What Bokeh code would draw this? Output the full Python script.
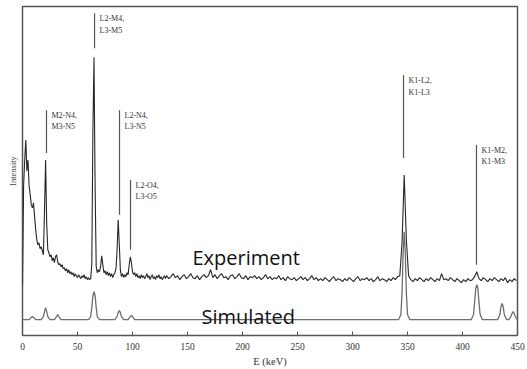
from bokeh.plotting import figure
from bokeh.models import Range1d, FixedTicker
from bokeh.core.properties import value
from bokeh.embed import file_html
from bokeh.resources import INLINE

# ---------------- data ----------------
exp_energy = list(range(0, 131)) + list(range(131, 450, 2))
exp_intensity = [
    51, 150, 176, 196, 165, 176, 150, 141, 131, 128,
    133, 119, 106, 96, 91, 93, 87, 89, 85, 81,
    125, 176, 112, 86, 83, 79, 81, 75, 78, 73,
    79, 81, 74, 71, 72, 69, 71, 67, 68, 65,
    67, 63, 66, 62, 64, 61, 63, 59, 62, 60,
    58, 61, 59, 57, 60, 58, 61, 57, 59, 56,
    58, 56, 57, 72, 205, 279, 150, 69, 63, 66,
    64, 69, 80, 71, 63, 65, 61, 64, 60, 63,
    59, 62, 58, 61, 63, 67, 86, 116, 91, 65,
    59, 62, 58, 61, 59, 63, 61, 71, 79, 73,
    64, 61, 63, 59, 62, 58, 60, 57, 61, 58,
    60, 57, 59, 62, 58, 60, 56, 59, 61, 57,
    59, 56, 60, 58, 61, 57, 59, 56, 58, 60,
    57,
    # 131 .. 449 keV, 2 keV step
    60, 57, 59, 62, 58, 60, 56, 59, 61, 57,
    59, 62, 58, 57, 60, 56, 59, 61, 58, 60,
    66, 58, 61, 57, 60, 62, 58, 59, 56, 60,
    61, 57, 59, 62, 58, 57, 60, 56, 59, 58,
    60, 57, 59, 56, 58, 61, 57, 59, 56, 58,
    57, 60, 56, 58, 55, 59, 57, 56, 58, 55,
    57, 59, 56, 58, 55, 57, 60, 56, 58, 55,
    57, 55, 58, 56, 54, 57, 59, 55, 57, 56,
    54, 57, 55, 58, 56, 54, 57, 59, 55, 57,
    56, 58, 55, 57, 54, 56, 59, 55, 57, 56,
    54, 57, 55, 58, 56, 59, 60, 92, 161, 95,
    60, 56, 54, 57, 55, 58, 56, 54, 57, 55,
    58, 56, 54, 57, 55, 62, 56, 57, 55, 58,
    56, 54, 57, 55, 53, 56, 54, 57, 55, 56,
    59, 64, 57, 55, 58, 56, 54, 57, 55, 58,
    56, 54, 57, 55, 58, 53, 56, 54, 57, 55,
]

sim_energy = [
    0, 6, 8, 9, 10, 12,
    17, 19, 20, 21, 22, 23, 25,
    29, 31, 32, 33, 35,
    60, 62, 63, 64, 65, 66, 67, 68, 70,
    84, 86, 87, 88, 89, 90, 92,
    96, 98, 99, 100, 102,
    342, 344, 345, 346, 347, 348, 349, 350, 352,
    408, 410, 411, 412, 413, 414, 415, 416, 418,
    432, 434, 435, 436, 437, 438, 440,
    442, 444, 445, 446, 447, 448, 450,
]
sim_intensity = [
    16, 16, 18, 19, 18, 16,
    16, 19, 24, 28, 24, 19, 16,
    16, 19, 21, 19, 16,
    16, 19, 28, 40, 44, 40, 28, 19, 16,
    16, 19, 23, 25, 23, 19, 16,
    16, 19, 20, 19, 16,
    16, 21, 42, 82, 104, 82, 42, 21, 16,
    16, 21, 33, 47, 51, 47, 33, 21, 16,
    16, 21, 29, 32, 29, 21, 16,
    16, 19, 22, 24, 22, 19, 16,
]

x_ticks = [0, 50, 100, 150, 200, 250, 300, 350, 400, 450]

label_energy = [21.8, 65.5, 88.2, 98.2, 346.4, 412.7]
label_line_bottom = [183, 288, 121, 86, 178, 71]
label_line_top = [226, 323, 226, 156, 261, 191]
label_text = [
    "M2-N4,\nM3-N5",
    "L2-M4,\nL3-M5",
    "L2-N4,\nL3-N5",
    "L2-O4,\nL3-O5",
    "K1-L2,\nK1-L3",
    "K1-M2,\nK1-M3",
]

series_names = ["Experiment", "Simulated"]
series_name_energy = [154.5, 162.7]
series_name_intensity = [78, 19]

# ---------------- figure ----------------
p = figure(
    width=527, height=369,
    x_range=Range1d(0, 450), y_range=Range1d(0, 330),
    output_backend="svg", toolbar_location=None,
    min_border_left=22, min_border_right=10, min_border_top=6, min_border_bottom=33,
    background_fill_color="white", border_fill_color="white",
)
p.xgrid.visible = False
p.ygrid.visible = False
p.outline_line_color = "#555555"
p.outline_line_width = 1.5

p.line(exp_energy, exp_intensity, line_color="#262626", line_width=1.1)
p.line(sim_energy, sim_intensity, line_color="#6e6e6e", line_width=1.3)

p.segment(x0=label_energy, y0=label_line_bottom, x1=label_energy, y1=label_line_top,
          line_color="#555555", line_width=1.2)
p.text(x=label_energy, y=label_line_top, text=label_text, x_offset=5, y_offset=1,
       text_baseline="top", text_align="left",
       text_font=value("Liberation Serif"), text_font_size="8px",
       text_line_height=1.25, text_color="#333333")

p.text(x=series_name_energy, y=series_name_intensity, text=series_names,
       text_baseline="alphabetic", text_align="left",
       text_font=value("Open Sans"), text_font_size="20px", text_color="#111111")

xa = p.xaxis[0]
xa.ticker = FixedTicker(ticks=x_ticks)
xa.major_tick_in = 4
xa.major_tick_out = 0
xa.minor_tick_line_color = None
xa.axis_line_color = None
xa.major_tick_line_color = "#555555"
xa.major_label_text_font = "Liberation Serif"
xa.major_label_text_font_size = "9.5px"
xa.major_label_text_color = "#333333"
xa.major_label_standoff = 7
xa.axis_label = "E (keV)"
xa.axis_label_text_font = "Liberation Serif"
xa.axis_label_text_font_size = "10.5px"
xa.axis_label_text_font_style = "normal"
xa.axis_label_text_color = "#333333"
xa.axis_label_standoff = 3

ya = p.yaxis[0]
ya.ticker = FixedTicker(ticks=[])
ya.major_tick_in = 0
ya.major_tick_out = 0
ya.minor_tick_line_color = None
ya.axis_line_color = None
ya.major_label_text_font_size = "0px"
ya.major_label_standoff = 0
ya.axis_label = "Intensity"
ya.axis_label_text_font = "Liberation Serif"
ya.axis_label_text_font_size = "8.5px"
ya.axis_label_text_font_style = "normal"
ya.axis_label_text_color = "#444444"
ya.axis_label_standoff = 5

open("out.html", "w").write(file_html(p, INLINE))
